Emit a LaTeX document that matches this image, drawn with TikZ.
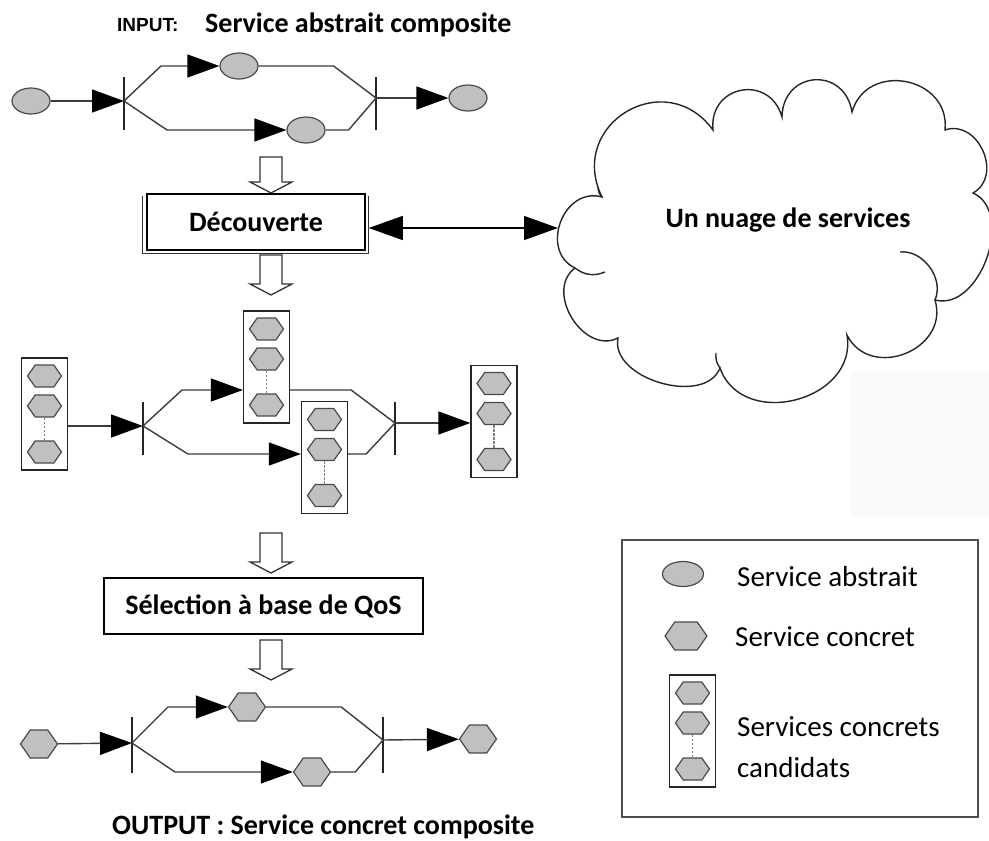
\documentclass[tikz,border=0pt]{standalone}
\usepackage{fontspec}
\setmainfont{Carlito}
\newfontfamily\tagfont{Liberation Sans}
\usetikzlibrary{arrows.meta,shapes.geometric,shapes.symbols}

\definecolor{svcfill}{HTML}{C0C0C0}
\definecolor{svcline}{HTML}{4A4A4A}
\definecolor{flow}{HTML}{3C3C3C}

\tikzset{
  abstractsvc/.style={ellipse, draw=svcline, fill=svcfill, line width=1.2pt,
    minimum width=38, minimum height=26, inner sep=0pt},
  concretesvc/.style={signal, signal to=east and west, signal pointer angle=110,
    draw=svcline, fill=svcfill, line width=1.2pt,
    minimum width=34, minimum height=22, inner sep=0pt},
  bigsvc/.style={concretesvc, minimum width=37, minimum height=28},
  flowline/.style={draw=flow, line width=1.4pt},
  tipped/.style={flowline, -{Triangle[length=32pt,width=23pt,black]}},
  bar/.style={draw=black!85, line width=1.1pt},
  candbox/.style={draw=black!85, line width=1.3pt, minimum width=46, minimum height=112, inner sep=0pt},
  dotline/.style={draw=black!50, line width=1.8pt, dash pattern=on 2.5pt off 1.5pt},
  procbox/.style={draw=black, line width=1.5pt, inner sep=0pt,
    font=\fontsize{28}{34}\selectfont\bfseries},
  hollowline/.style={draw=black!80, line width=1.3pt, fill=white},
  cloudline/.style={draw=black!85, line width=1.4pt},
  boldtext/.style={font=\fontsize{28}{34}\selectfont\bfseries, inner sep=0pt},
  legendtext/.style={font=\fontsize{29}{35}\selectfont, inner sep=0pt, anchor=west},
  pics/candset/.style={code={
    \node[candbox] (-box) at (0,0) {};
    \node[concretesvc] (-h1) at (0,-38) {};
    \node[concretesvc] (-h2) at (0,-8) {};
    \node[concretesvc] (-h3) at (0,38) {};
    \draw[dotline] (-h2.south) -- (-h3.north);
  }},
  pics/hollowdown/.style={code={
    \draw[hollowline] (-11,0) -- (-11,#1-11) -- (-21,#1-11) -- (0,#1)
      -- (21,#1-11) -- (11,#1-11) -- (11,0) -- cycle;
  }}
}

\begin{document}
\begin{tikzpicture}[x=1pt,y=-1pt]
\useasboundingbox (0,0) rectangle (989,841);

% faint panel behind the lower right of the cloud
\fill[black!2] (851,372) rectangle (989,517);

% ---------- input: abstract composite service ----------
\node[anchor=west, inner sep=0pt, font=\tagfont\fontsize{19}{23}\selectfont\bfseries] (intag) at (117,25) {INPUT:};
\node[boldtext, anchor=west] (intitle) at (205,25) {Service abstrait composite};

\node[abstractsvc] (a1) at (31,101) {};
\node[abstractsvc] (a2) at (239,66) {};
\node[abstractsvc] (a3) at (306,130) {};
\node[abstractsvc] (a4) at (468,98) {};
\coordinate (j1) at (124,101);
\coordinate (j2) at (376,98);
\draw[bar] (j1) ++(0,-24) -- ++(0,53);
\draw[bar] (j2) ++(0,-21) -- ++(0,53);
\draw[tipped] (a1) -- (j1);
\draw[tipped] (j1) -- ++(37,-35) -- (a2);
\draw[flowline] (a2.east) -- ++(75,0) -- (j2);
\draw[tipped] (j1) -- ++(43,29) -- (a3);
\draw[flowline] (a3.east) -- ++(23,0) -- (j2);
\draw[tipped] (j2) -- (a4);

\pic at (271,157) {hollowdown=36};

% ---------- discovery ----------
\node[procbox, minimum width=218, minimum height=56] (disc) at (256,222) {Découverte};
\draw[draw=black!80, line width=1.2pt]
  ([shift={(-4pt,-3pt)}]disc.north west) -- ([shift={(-4pt,-3pt)}]disc.south west)
  -- ([shift={(3pt,-3pt)}]disc.south east) -- ([shift={(3pt,-3pt)}]disc.north east);

% ---------- cloud of services ----------
\coordinate (q1) at (575,268);
\coordinate (q2) at (602,197);
\coordinate (q3) at (713,130);
\coordinate (q4) at (782,117);
\coordinate (q5) at (852,112);
\coordinate (q6) at (945,130);
\coordinate (q7) at (973,193);
\coordinate (q8) at (935,300);
\coordinate (q9) at (847,335);
\coordinate (q10) at (720,368);
\coordinate (q11) at (618,338);
\draw[cloudline]
  (q1) to[bend left=85, looseness=1.35] (q2)
       to[bend left=85, looseness=1.6] (q3)
       to[bend left=85, looseness=1.65] (q4)
       to[bend left=85, looseness=1.7] (q5)
       to[bend left=85, looseness=1.45] (q6)
       to[bend left=85, looseness=1.3] (q7)
       to[bend left=85, looseness=1.05] (q8)
       to[bend left=85, looseness=1.4] (q9)
       to[bend left=85, looseness=1.3] (q10)
       to[bend left=85, looseness=1.0] (q11)
       to[bend left=85, looseness=1.2] (q1);
\draw[cloudline] (900,252) to[bend left=60] (q8);
\draw[cloudline] (q1) to[bend right=30] ++(30,4);
\draw[cloudline] (q2) to[bend left=20] ++(-4,-10);
\draw[cloudline] (q10) to[bend left=20] ++(-4,-15);
\coordinate (cloudL) at (558,228);
\node[boldtext] (cloudtxt) at (788,220) {Un nuage de services};

\draw[flowline, draw=black, {Triangle[length=34pt,width=24pt]}-{Triangle[length=34pt,width=24pt]}]
  ([xshift=3pt]disc.east |- cloudL) -- (cloudL);

\pic at (271,255) {hollowdown=40};

% ---------- candidate concrete services ----------
\pic (L) at (44.5,414) {candset};
\pic (TM) at (266.5,367) {candset};
\pic (BM) at (324.5,457.5) {candset};
\pic (R) at (494,421.5) {candset};
\coordinate (j3) at (143,426);
\coordinate (j4) at (395,423);
\draw[bar] (j3) ++(0,-24) -- ++(0,53);
\draw[bar] (j4) ++(0,-21) -- ++(0,53);
\draw[tipped] (L-box.east |- j3) -- (j3);
\draw[tipped] (j3) -- ++(39,-36) coordinate (t) -- (t -| TM-box.west);
\draw[flowline] (TM-box.east |- t) -- ++(61,0) -- (j4);
\draw[tipped] (j3) -- ++(45,28) coordinate (b) -- (b -| BM-box.west);
\draw[flowline] (BM-box.east |- b) -- ++(18,0) -- (j4);
\draw[tipped] (j4) -- (j4 -| R-box.west);

\pic at (271,533) {hollowdown=40};

% ---------- QoS based selection ----------
\node[procbox, minimum width=319, minimum height=56] (sel) at (263.5,606) {Sélection à base de QoS};

\pic at (271,640) {hollowdown=40};

% ---------- output: concrete composite service ----------
\node[bigsvc] (c1) at (39,744) {};
\node[bigsvc] (c2) at (247,707) {};
\node[bigsvc] (c3) at (312,772) {};
\node[bigsvc] (c4) at (478,739) {};
\coordinate (j5) at (132,743);
\coordinate (j6) at (383,740);
\draw[bar] (j5) ++(0,-26) -- ++(0,56);
\draw[bar] (j6) ++(0,-23) -- ++(0,56);
\draw[tipped] (c1) -- (j5);
\draw[tipped] (j5) -- ++(36,-36) -- (c2);
\draw[flowline] (c2.east) -- ++(75,0) -- (j6);
\draw[tipped] (j5) -- ++(43,29) -- (c3);
\draw[flowline] (c3.east) -- ++(24,0) -- (j6);
\draw[tipped] (j6) -- (c4);

\node[boldtext, anchor=west] (outtitle) at (112,827) {OUTPUT : Service concret composite};

% ---------- legend ----------
\node[draw=black!70, line width=1.3pt, minimum width=356, minimum height=277, inner sep=0pt] (legend) at (800,678.5) {};
\node[abstractsvc, minimum width=41, minimum height=25] (la) at (683,574) {};
\node[legendtext] (lat) at (737,577) {Service abstrait};
\node[concretesvc, minimum width=42, minimum height=28] (lc) at (686,636) {};
\node[legendtext] (lct) at (735,637) {Service concret};
\pic (lg) at (692.5,731) {candset};
\node[legendtext] (lgt1) at (737,727) {Services concrets};
\node[legendtext] (lgt2) at (737,768) {candidats};
\end{tikzpicture}
\end{document}
